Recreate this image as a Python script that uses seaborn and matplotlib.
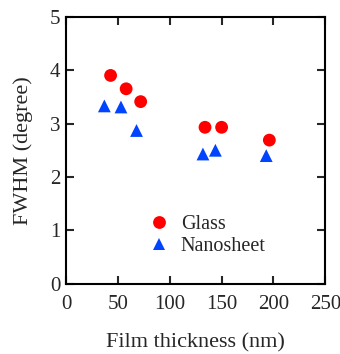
import matplotlib
matplotlib.use("Agg")
import matplotlib.pyplot as plt
import seaborn as sns
import pandas as pd

# FWHM vs film thickness for the two substrates
glass_thickness = [43, 58, 72, 134, 150, 196]
glass_fwhm = [3.90, 3.65, 3.41, 2.93, 2.93, 2.69]
nano_thickness = [37, 53, 68, 132, 144, 193]
nano_fwhm = [3.33, 3.31, 2.87, 2.43, 2.50, 2.40]

x_ticks = [0, 50, 100, 150, 200, 250]
y_ticks = [0, 1, 2, 3, 4, 5]

df = pd.DataFrame({
    "thickness": glass_thickness + nano_thickness,
    "fwhm": glass_fwhm + nano_fwhm,
    "substrate": ["Glass"] * len(glass_thickness) + ["Nanosheet"] * len(nano_thickness),
})

sns.set_style("white")
plt.rcParams["font.family"] = ["Liberation Serif", "DejaVu Serif"]

fig = plt.figure(figsize=(3.4, 3.54), dpi=100)
ax = fig.add_axes([0.194, 0.198, 0.763, 0.755])

sns.scatterplot(
    data=df, x="thickness", y="fwhm", hue="substrate", style="substrate",
    palette={"Glass": "#ff0000", "Nanosheet": "#0044ff"},
    markers={"Glass": "o", "Nanosheet": "^"},
    s=85, linewidth=0, ax=ax,
)

ax.set_xlim(0, 250)
ax.set_ylim(0, 5)
ax.set_xticks(x_ticks)
ax.set_yticks(y_ticks)
ax.set_xlabel("Film thickness (nm)", fontsize=16, labelpad=14)
ax.set_ylabel("FWHM (degree)", fontsize=16, labelpad=12)
ax.tick_params(direction="in", length=6, width=1.5, labelsize=15,
               top=True, right=True, bottom=True, left=True)
ax.tick_params(axis="x", pad=8)
ax.tick_params(axis="y", pad=4)
for sp in ax.spines.values():
    sp.set_linewidth(1.5)
    sp.set_color("black")

leg = ax.legend(loc="lower left", bbox_to_anchor=(0.28, 0.075), frameon=False,
                fontsize=14.5, handlelength=1.2, handletextpad=0.5,
                labelspacing=0.15, markerscale=1.0, borderaxespad=0)

fig.savefig("out.png", dpi=100)
